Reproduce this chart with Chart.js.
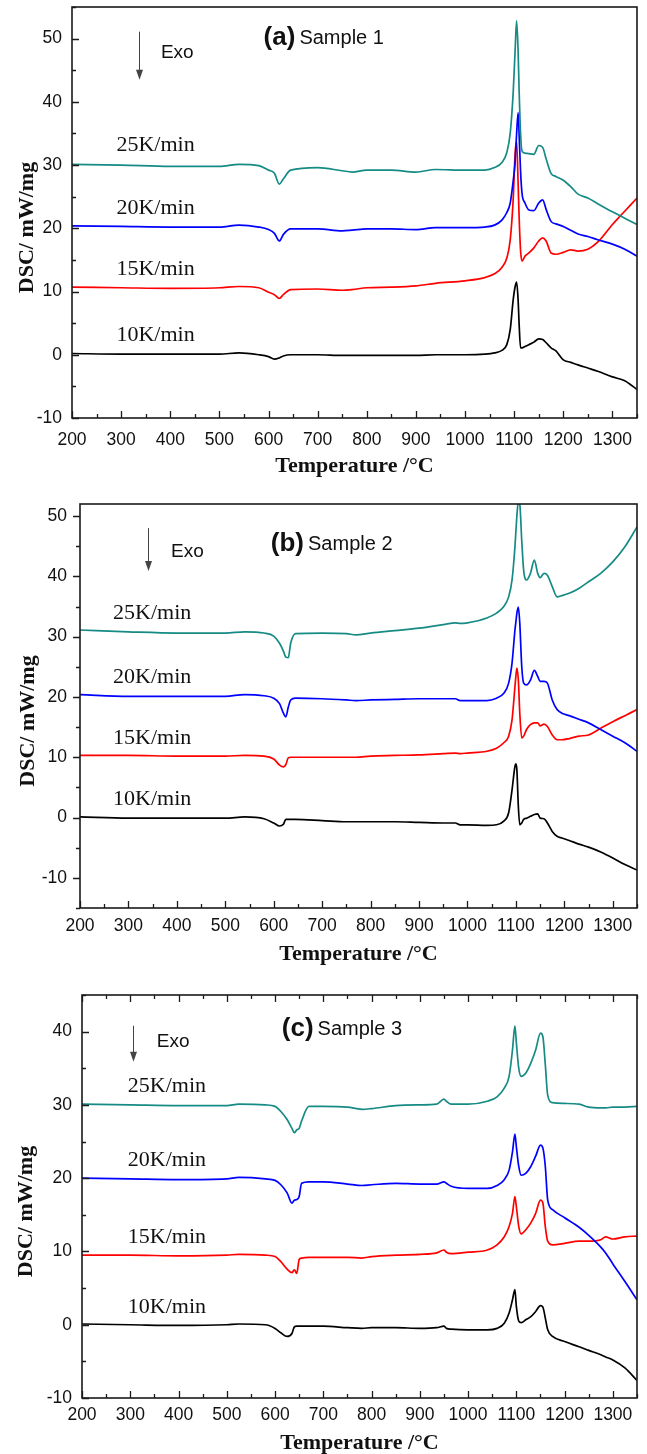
<!DOCTYPE html>
<html>
<head>
<meta charset="utf-8">
<script src="https://cdn.jsdelivr.net/npm/chart.js@4.4.1/dist/chart.umd.min.js"></script>
<style>
  body { margin: 0; background: #fff; }
  .panel { position: absolute; left: 0; width: 647px; }
</style>
</head>
<body>
<div class="panel" style="top:0"><canvas id="chartA" width="647" height="482"></canvas></div>
<div class="panel" style="top:482px"><canvas id="chartB" width="647" height="486"></canvas></div>
<div class="panel" style="top:968px"><canvas id="chartC" width="647" height="486"></canvas></div>
<script>
// heating rates, same order in every panel
var rateLabels = ['25K/min', '20K/min', '15K/min', '10K/min'];
var seriesColors = ['#168a84', '#0000ff', '#ff0000', '#000000'];

var xTickValues = [200, 300, 400, 500, 600, 700, 800, 900, 1000, 1100, 1200, 1300];
var yTicksA = [-10, 0, 10, 20, 30, 40, 50];
var yTicksB = [-10, 0, 10, 20, 30, 40, 50];
var yTicksC = [-10, 0, 10, 20, 30, 40];

/* (a) Sample 1 */
var tempA = [200, 300, 400, 500, 540, 580, 600, 612, 622, 630, 645, 700, 750, 770, 800, 850, 900, 940,
  1000, 1040, 1060, 1075, 1085, 1092, 1098, 1102, 1105, 1108, 1110, 1113, 1116, 1122,
  1130, 1140, 1150, 1158, 1165, 1175, 1185, 1200, 1215, 1230, 1250, 1270, 1300, 1325, 1350];
var dscA25 = [30.1, 30.0, 29.8, 29.8, 30.1, 29.9, 29.2, 28.7, 27.0, 27.8, 29.2, 29.6, 29.1, 28.9, 29.2, 29.2, 28.9, 29.3,
  29.2, 29.2, 29.6, 30.4, 32.0, 35.1, 41.5, 48.3, 52.8, 48.0, 42.0, 35.0, 32.2, 31.9,
  31.8, 31.7, 33.1, 32.8, 31.0, 28.7, 28.2, 27.6, 26.6, 25.4, 24.8, 23.9, 22.6, 21.6, 20.6];
var dscA20 = [20.4, 20.3, 20.2, 20.2, 20.5, 20.2, 19.8, 19.2, 18.0, 19.0, 19.9, 19.9, 19.6, 19.7, 19.9, 19.9, 19.8, 20.1,
  20.1, 20.2, 20.5, 21.3, 22.5, 24.0, 27.5, 30.5, 35.0, 38.3, 35.0, 29.0, 25.5, 24.0,
  22.9, 22.8, 24.0, 24.5, 23.0, 21.1, 20.7, 20.3, 19.7, 19.1, 18.7, 18.2, 17.5, 16.7, 15.6];
var dscA15 = [10.7, 10.6, 10.5, 10.6, 10.8, 10.6, 9.9, 9.5, 8.9, 9.5, 10.3, 10.4, 10.2, 10.3, 10.6, 10.7, 10.9, 11.3,
  11.7, 12.2, 12.8, 13.8, 15.3, 18.2, 24.6, 32.0, 33.7, 27.2, 22.0, 16.5, 14.8, 15.6,
  16.1, 16.9, 18.0, 18.5, 18.0, 16.1, 15.9, 16.2, 16.6, 16.4, 16.7, 17.8, 20.6, 22.7, 24.8];
var dscA10 = [0.2, 0.1, 0.1, 0.1, 0.3, 0.0, -0.3, -0.7, -0.5, -0.2, 0.0, 0.0, -0.1, -0.1, -0.1, -0.1, -0.1, 0.0,
  0.0, 0.1, 0.3, 0.7, 1.6, 4.0, 8.7, 10.8, 11.5, 8.7, 5.0, 1.1, 1.1, 1.3,
  1.6, 2.0, 2.5, 2.4, 1.9, 1.1, 0.6, -0.8, -1.2, -1.6, -2.1, -2.6, -3.5, -4.1, -5.5];

/* (b) Sample 2 */
var tempB = [200, 300, 400, 500, 540, 580, 600, 612, 620, 625, 630, 635, 645, 700, 750, 770, 800, 850, 900, 950,
  975, 985, 1000, 1040, 1060, 1075, 1085, 1092, 1098, 1100, 1102, 1105, 1108, 1112, 1116, 1122, 1130, 1138, 1145, 1150,
  1158, 1165, 1175, 1185, 1195, 1210, 1230, 1250, 1275, 1300, 1325, 1350];
var dscB25 = [31.1, 30.8, 30.6, 30.6, 30.8, 30.6, 30.1, 28.9, 27.6, 26.6, 26.5, 28.9, 30.5, 30.6, 30.5, 30.3, 30.6, 31.0, 31.4, 32.0,
  32.3, 32.2, 32.3, 33.1, 33.9, 35.0, 36.6, 39.4, 44.9, 47.5, 50.0, 52.5, 52.0, 46.0, 41.0, 39.4, 40.5, 42.7, 40.5, 39.8,
  40.5, 40.2, 38.3, 36.6, 36.8, 37.2, 38.0, 39.1, 40.5, 42.4, 44.9, 48.2];
var dscB20 = [20.4, 20.1, 20.1, 20.1, 20.4, 20.2, 19.8, 18.9, 17.3, 16.7, 18.3, 19.5, 19.8, 19.7, 19.5, 19.4, 19.5, 19.6, 19.7, 19.7,
  19.7, 19.4, 19.4, 19.4, 19.8, 20.6, 22.3, 25.6, 31.1, 32.5, 33.9, 34.9, 32.2, 25.1, 22.3, 22.0, 22.8, 24.4, 23.4, 22.6,
  22.6, 22.3, 19.5, 17.9, 17.3, 16.9, 16.3, 15.7, 14.6, 13.5, 12.4, 11.0];
var dscB15 = [10.3, 10.3, 10.2, 10.2, 10.3, 10.2, 9.7, 8.7, 8.4, 8.8, 9.9, 10.0, 10.0, 10.0, 10.0, 10.0, 10.2, 10.3, 10.4, 10.6,
  10.7, 10.6, 10.7, 11.0, 11.5, 12.4, 13.5, 16.2, 21.7, 23.5, 24.8, 22.8, 17.3, 13.2, 13.5, 14.6, 15.4, 15.7, 15.7, 15.2,
  15.5, 15.1, 13.7, 12.9, 12.9, 13.1, 13.5, 13.7, 14.8, 15.9, 16.9, 17.9];
var dscB10 = [0.1, -0.1, -0.1, -0.1, 0.1, -0.2, -0.9, -1.4, -1.1, -0.3, -0.3, -0.3, -0.3, -0.5, -0.7, -0.7, -0.7, -0.7, -0.8, -0.9,
  -0.9, -1.2, -1.2, -1.3, -1.2, -0.6, 0.8, 4.6, 8.5, 8.9, 7.9, 1.9, -1.2, -0.9, -0.3, -0.1, 0.2, 0.5, 0.6, -0.1,
  -0.2, -0.9, -2.3, -3.1, -3.4, -3.8, -4.4, -4.9, -5.7, -6.7, -7.8, -8.7];

/* (c) Sample 3 */
var tempC = [200, 300, 400, 500, 525, 580, 600, 612, 625, 635, 640, 645, 650, 655, 670, 700, 750, 780, 800, 850,
  900, 935, 950, 955, 965, 1000, 1040, 1060, 1075, 1085, 1092, 1097, 1100, 1105, 1110, 1120, 1130, 1140, 1150, 1155,
  1160, 1165, 1175, 1200, 1230, 1250, 1275, 1285, 1300, 1325, 1350];
var dscC25 = [30.1, 30.0, 29.9, 29.9, 30.1, 30.0, 29.8, 29.1, 28.0, 26.8, 26.2, 26.6, 26.8, 27.8, 29.8, 29.8, 29.7, 29.4, 29.5, 29.9,
  30.0, 30.1, 30.8, 30.5, 30.1, 30.1, 30.5, 31.1, 32.3, 33.9, 37.5, 40.8, 38.5, 35.0, 33.9, 34.4, 35.7, 37.5, 39.8, 39.3,
  35.5, 31.3, 30.3, 30.2, 30.1, 29.7, 29.6, 29.6, 29.7, 29.7, 29.8];
var dscC20 = [20.0, 19.9, 19.8, 19.9, 20.1, 19.9, 19.7, 19.1, 18.0, 16.6, 17.0, 17.1, 17.5, 19.3, 19.5, 19.5, 19.2, 19.0, 19.1, 19.3,
  19.2, 19.2, 19.5, 19.3, 18.9, 18.6, 18.6, 19.0, 19.8, 21.1, 23.6, 26.0, 24.3, 21.6, 20.4, 20.7, 21.6, 23.0, 24.5, 24.1,
  21.6, 17.0, 15.7, 14.6, 13.3, 12.2, 10.6, 9.8, 8.3, 5.9, 3.4];
var dscC15 = [9.5, 9.5, 9.4, 9.5, 9.6, 9.5, 9.3, 8.6, 7.6, 7.1, 7.5, 7.0, 8.9, 9.1, 9.2, 9.2, 9.2, 9.1, 9.3, 9.5,
  9.6, 9.8, 10.2, 9.9, 9.7, 9.9, 10.2, 10.9, 12.0, 13.4, 15.2, 17.5, 16.1, 13.4, 12.4, 13.0, 13.9, 15.2, 17.0, 16.6,
  13.4, 11.4, 10.9, 11.1, 11.4, 11.4, 11.6, 12.0, 11.7, 12.0, 12.1];
var dscC10 = [0.1, 0.0, -0.1, 0.0, 0.1, 0.0, -0.5, -1.1, -1.6, -1.2, -0.3, -0.2, -0.2, -0.2, -0.2, -0.2, -0.4, -0.5, -0.4, -0.4,
  -0.5, -0.4, -0.2, -0.5, -0.6, -0.7, -0.7, -0.5, 0.2, 1.6, 3.4, 4.8, 2.5, 0.5, 0.3, 0.7, 1.1, 1.8, 2.6, 2.4,
  0.9, -0.7, -1.6, -2.3, -3.0, -3.5, -4.1, -4.4, -4.8, -5.9, -7.6];

var sansFont = '"Liberation Sans", Arial, sans-serif';
var serifFont = '"Liberation Serif", "Times New Roman", serif';

/* frame, inward/outward ticks and the text inside each panel */
var decoPlugin = {
  id: 'panelDeco',
  afterDraw: function(chart, args, o) {
    var ctx = chart.ctx, a = chart.chartArea;
    var xs = chart.scales.x, ys = chart.scales.y;
    var v, px, len, i;
    ctx.save();
    ctx.strokeStyle = '#1a1a1a';
    ctx.lineWidth = 1.6;
    ctx.strokeRect(a.left, a.top, a.right - a.left, a.bottom - a.top);

    ctx.lineWidth = 1.3;
    ctx.beginPath();
    for (v = xs.min; v <= xs.max; v += 50) {
      px = Math.round(xs.getPixelForValue(v)) + 0.5;
      len = (v % 100 === 0) ? 7 : 4;
      ctx.moveTo(px, a.bottom);
      ctx.lineTo(px, a.bottom + (o.xIn ? -len : len));
      if (o.topTicks) {
        ctx.moveTo(px, a.top);
        ctx.lineTo(px, a.top + len);
      }
    }
    for (v = Math.ceil(ys.min / 5) * 5; v <= ys.max; v += 5) {
      px = Math.round(ys.getPixelForValue(v)) + 0.5;
      len = (v % 10 === 0) ? 7 : 4;
      ctx.moveTo(a.left, px);
      ctx.lineTo(a.left + (o.yIn ? len : -len), px);
    }
    ctx.stroke();

    // y axis title, sits a bit below the middle in the original
    ctx.save();
    ctx.translate(o.yTitleX, (a.top + a.bottom) / 2 + 15);
    ctx.rotate(-Math.PI / 2);
    ctx.fillStyle = '#111';
    ctx.font = 'bold 22px ' + serifFont;
    ctx.textAlign = 'center';
    ctx.textBaseline = 'middle';
    ctx.fillText('DSC/ mW/mg', 0, 0);
    ctx.restore();

    // heating rate labels
    ctx.fillStyle = '#111';
    ctx.font = '22px ' + serifFont;
    ctx.textAlign = 'center';
    ctx.textBaseline = 'middle';
    for (i = 0; i < rateLabels.length; i++) {
      ctx.fillText(rateLabels[i], xs.getPixelForValue(o.rateX), ys.getPixelForValue(o.rateY[i]));
    }

    // Exo arrow
    var ax = Math.round(xs.getPixelForValue(o.arrowX)) + 0.5;
    var ay0 = ys.getPixelForValue(o.arrowY[0]), ay1 = ys.getPixelForValue(o.arrowY[1]);
    ctx.strokeStyle = '#444';
    ctx.fillStyle = '#444';
    ctx.lineWidth = 1;
    ctx.beginPath();
    ctx.moveTo(ax, ay0);
    ctx.lineTo(ax, ay1 - 8);
    ctx.stroke();
    ctx.beginPath();
    ctx.moveTo(ax - 3.5, ay1 - 10);
    ctx.lineTo(ax + 3.5, ay1 - 10);
    ctx.lineTo(ax, ay1);
    ctx.closePath();
    ctx.fill();

    ctx.fillStyle = '#111';
    ctx.textAlign = 'left';
    ctx.font = '19px ' + sansFont;
    ctx.fillText('Exo', xs.getPixelForValue(o.exo[0]), ys.getPixelForValue(o.exo[1]));

    // panel tag
    var tx = xs.getPixelForValue(o.tag[0]), ty = ys.getPixelForValue(o.tag[1]);
    ctx.font = 'bold 26px ' + sansFont;
    ctx.fillText(o.tagText, tx, ty);
    tx += ctx.measureText(o.tagText).width + 4;
    ctx.font = '20px ' + sansFont;
    ctx.fillText(o.sample, tx, ty + 1);
    ctx.restore();
  }
};

function toPoints(xs, ys) {
  return xs.map(function(x, i) { return { x: x, y: ys[i] }; });
}

function plainLabel(v) {
  return String(v);
}

function makeChart(id, p) {
  var datasets = p.series.map(function(s, i) {
    return {
      label: rateLabels[i],
      data: toPoints(p.temp, s),
      borderColor: seriesColors[i],
      borderWidth: 1.7,
      pointRadius: 0,
      fill: false,
      cubicInterpolationMode: 'monotone'
    };
  });

  return new Chart(document.getElementById(id), {
    type: 'line',
    data: { datasets: datasets },
    options: {
      responsive: false,
      animation: false,
      events: [],
      layout: { padding: { top: p.top, right: 10, left: 0, bottom: 0 } },
      plugins: {
        legend: { display: false },
        tooltip: { enabled: false },
        panelDeco: p.deco
      },
      scales: {
        x: {
          type: 'linear',
          min: 200,
          max: 1350,
          grid: { display: false, drawTicks: false },
          border: { display: false },
          afterBuildTicks: function(s) {
            s.ticks = xTickValues.map(function(v) { return { value: v }; });
          },
          afterFit: function(s) {
            s.height = p.xH;
            s.paddingLeft = 0;
            s.paddingRight = 0;
          },
          ticks: {
            color: '#111',
            padding: p.xPad,
            maxRotation: 0,
            autoSkip: false,
            callback: plainLabel,
            font: { family: sansFont, size: 17.5 }
          },
          title: {
            display: true,
            text: 'Temperature /°C',
            color: '#111',
            padding: { top: 0, bottom: p.titlePad },
            font: { family: serifFont, size: 22, weight: 'bold', lineHeight: 1 }
          }
        },
        y: {
          type: 'linear',
          min: p.yMin,
          max: p.yMax,
          grid: { display: false, drawTicks: false },
          border: { display: false },
          afterBuildTicks: function(s) {
            s.ticks = p.yTicks.map(function(v) { return { value: v }; });
          },
          afterFit: function(s) {
            s.width = p.yW;
            s.paddingTop = 0;
            s.paddingBottom = 0;
          },
          ticks: {
            color: '#111',
            padding: p.yPad,
            callback: plainLabel,
            font: { family: sansFont, size: 17.5 }
          }
        }
      }
    },
    plugins: [decoPlugin]
  });
}

makeChart('chartA', {
  temp: tempA, series: [dscA25, dscA20, dscA15, dscA10],
  yMin: -10, yMax: 55, yTicks: yTicksA,
  top: 7, yW: 72, xH: 64, xPad: 12, titlePad: 5, yPad: 10,
  deco: {
    xIn: true, yIn: true, topTicks: false, yTitleX: 27,
    rateX: 370, rateY: [33.1, 23.1, 13.6, 3.1],
    arrowX: 336, arrowY: [51.1, 43.5], exo: [381, 47.8],
    tag: [590, 50.1], tagText: '(a)', sample: 'Sample 1'
  }
});

makeChart('chartB', {
  temp: tempB, series: [dscB25, dscB20, dscB15, dscB10],
  yMin: -15, yMax: 52, yTicks: yTicksB,
  top: 22, yW: 80, xH: 60, xPad: 8, titlePad: 3, yPad: 13,
  deco: {
    xIn: true, yIn: false, topTicks: false, yTitleX: 28,
    rateX: 349, rateY: [33.9, 23.3, 13.2, 3.1],
    arrowX: 340, arrowY: [48, 40.9], exo: [388, 44],
    tag: [594, 45.4], tagText: '(b)', sample: 'Sample 2'
  }
});

makeChart('chartC', {
  temp: tempC, series: [dscC25, dscC20, dscC15, dscC10],
  yMin: -10, yMax: 45, yTicks: yTicksC,
  top: 27, yW: 82, xH: 56, xPad: 7, titlePad: 0, yPad: 10,
  deco: {
    xIn: true, yIn: true, topTicks: true, yTitleX: 26,
    rateX: 376, rateY: [32.6, 22.5, 11.9, 2.4],
    arrowX: 306, arrowY: [40.8, 35.9], exo: [355, 38.6],
    tag: [614, 40.4], tagText: '(c)', sample: 'Sample 3'
  }
});
</script>
</body>
</html>
